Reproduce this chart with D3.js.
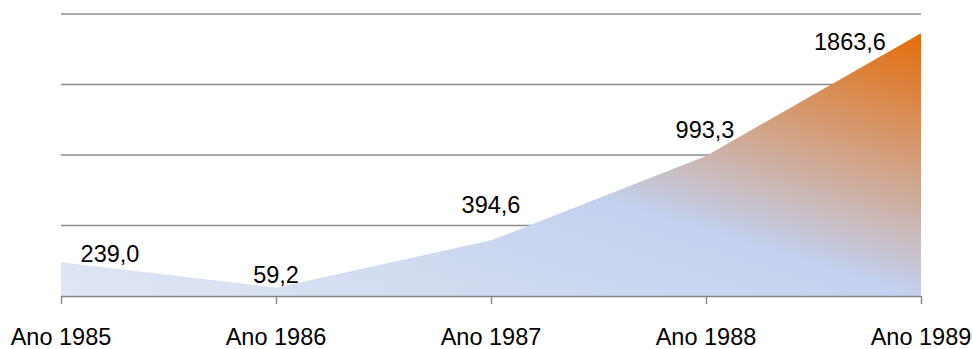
<!DOCTYPE html>
<html>
<head>
<meta charset="utf-8">
<script src="https://cdn.jsdelivr.net/npm/d3@7/dist/d3.min.js"></script>
<style>
  html, body { margin: 0; padding: 0; background: #fff; }
  svg { display: block; }
  text { font-family: "Liberation Sans", Arial, sans-serif; fill: #000; }
</style>
</head>
<body>
<svg id="chart" width="973" height="349"></svg>
<script>
// Yearly totals
const categories = ["Ano 1985", "Ano 1986", "Ano 1987", "Ano 1988", "Ano 1989"];
const values = [239.0, 59.2, 394.6, 993.3, 1863.6];
const valueLabels = ["239,0", "59,2", "394,6", "993,3", "1863,6"];
const gridTicks = [0, 500, 1000, 1500, 2000];

// label placement relative to each point: [dx, dy]
const labelOffsets = [[49, 0], [0, -5], [0, -27], [-1, -18], [-71, 17]];

const W = 973, H = 349;
const svg = d3.select("#chart");

const x = d3.scalePoint().domain(categories).range([61, 921]);
const y = d3.scaleLinear().domain([0, 2000]).range([296, 14]);

// gradient fill for the area
const defs = svg.append("defs");
const grad = defs.append("linearGradient")
  .attr("id", "areaFill")
  .attr("x1", 0).attr("y1", 1).attr("x2", 1).attr("y2", 0);
grad.append("stop").attr("offset", 0).attr("stop-color", "#e0e6f4");
grad.append("stop").attr("offset", 0.5).attr("stop-color", "#c2d1ee");
grad.append("stop").attr("offset", 1).attr("stop-color", "#e46c0a");

// horizontal gridlines
svg.append("g")
  .selectAll("line")
  .data(gridTicks.filter(d => d > 0))
  .join("line")
  .attr("x1", x.range()[0]).attr("x2", x.range()[1])
  .attr("y1", d => y(d)).attr("y2", d => y(d))
  .attr("stroke", "#8c8c8c")
  .attr("stroke-width", 1.4);

// area
const area = d3.area()
  .x((d, i) => x(categories[i]))
  .y0(y(0))
  .y1(d => y(d));

svg.append("path")
  .datum(values)
  .attr("d", area)
  .attr("fill", "url(#areaFill)");

// category axis
const xAxis = d3.axisBottom(x).tickSize(8).tickSizeOuter(0).tickFormat("");
const gx = svg.append("g")
  .attr("transform", `translate(0,${y(0)})`)
  .call(xAxis);
gx.select(".domain").attr("stroke", "#868686").attr("stroke-width", 1.6);
gx.selectAll(".tick line").attr("stroke", "#868686").attr("stroke-width", 1.4);

svg.append("g")
  .selectAll("text")
  .data(categories)
  .join("text")
  .attr("x", d => x(d))
  .attr("y", 345)
  .attr("text-anchor", "middle")
  .attr("font-size", 23.5)
  .text(d => d);

// value labels
svg.append("g")
  .selectAll("text")
  .data(values)
  .join("text")
  .attr("x", (d, i) => x(categories[i]) + labelOffsets[i][0])
  .attr("y", (d, i) => y(d) + labelOffsets[i][1])
  .attr("text-anchor", "middle")
  .attr("font-size", 23.5)
  .text((d, i) => valueLabels[i]);
</script>
</body>
</html>
